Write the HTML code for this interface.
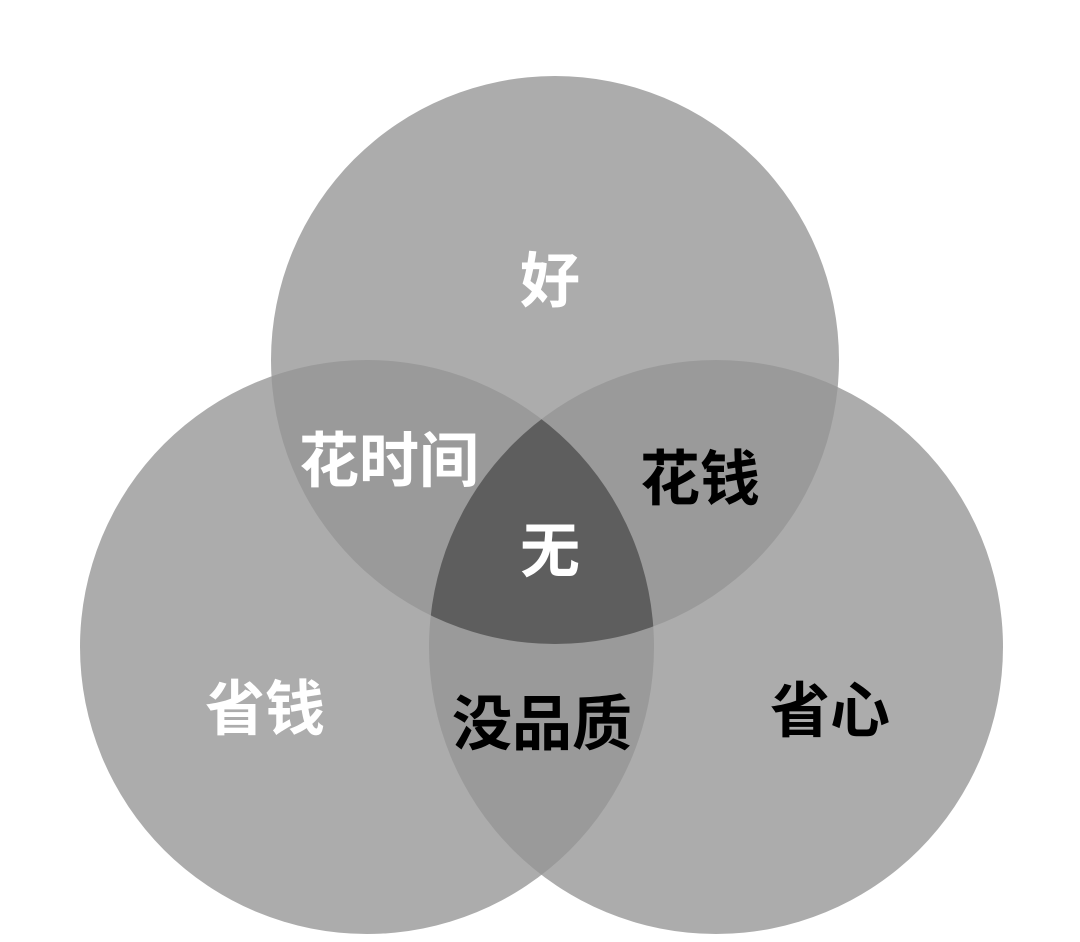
<!DOCTYPE html>
<html><head><meta charset="utf-8"><style>
html,body{margin:0;padding:0;background:#fff;width:1080px;height:942px;overflow:hidden}
text{font-family:"Liberation Sans","Noto Sans CJK SC",sans-serif;font-weight:bold;font-size:60px;text-anchor:middle}
</style></head><body>
<svg width="1080" height="942" viewBox="0 0 1080 942" xmlns="http://www.w3.org/2000/svg">
<defs>
<clipPath id="cT"><circle cx="555" cy="360" r="284"/></clipPath>
<clipPath id="cL"><circle cx="367" cy="647" r="287"/></clipPath>
<clipPath id="cR"><circle cx="716" cy="647" r="287"/></clipPath>
</defs>
<circle cx="555" cy="360" r="284" fill="#acacac"/>
<circle cx="367" cy="647" r="287" fill="#acacac"/>
<circle cx="716" cy="647" r="287" fill="#acacac"/>
<g clip-path="url(#cT)"><circle cx="367" cy="647" r="287" fill="#9a9a9a"/><circle cx="716" cy="647" r="287" fill="#9a9a9a"/></g>
<g clip-path="url(#cL)"><circle cx="716" cy="647" r="287" fill="#9a9a9a"/></g>
<g clip-path="url(#cT)"><g clip-path="url(#cL)"><circle cx="716" cy="647" r="287" fill="#5e5e5e"/></g></g>
<text x="550" y="302" fill="#fff">好</text>
<text x="389" y="482" fill="#fff">花时间</text>
<text x="700" y="500" fill="#000">花钱</text>
<text x="550" y="572" fill="#fff">无</text>
<text x="265" y="730" fill="#fff">省钱</text>
<text x="542" y="745" fill="#000">没品质</text>
<text x="830" y="732" fill="#000">省心</text>
</svg>
</body></html>
